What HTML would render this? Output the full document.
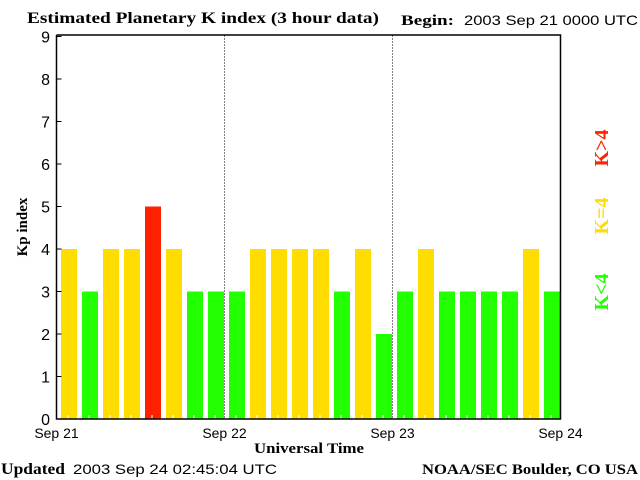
<!DOCTYPE html>
<html><head><meta charset="utf-8"><style>
body{margin:0;background:#fff}
svg{display:block}
text{font-family:"Liberation Sans",sans-serif;font-size:14px;fill:#000}
.serif{font-family:"Liberation Serif",serif;font-weight:bold}
</style></head><body>
<svg id="chart" width="640" height="480">
<text class="serif" x="27" y="23" style="font-size:16px" textLength="352" lengthAdjust="spacingAndGlyphs">Estimated Planetary K index (3 hour data)</text>
<text class="serif" x="401" y="25" style="font-size:15px" textLength="53" lengthAdjust="spacingAndGlyphs">Begin:</text>
<text x="464" y="25" textLength="174" lengthAdjust="spacingAndGlyphs">2003 Sep 21 0000 UTC</text>
<text class="serif" x="1" y="474" style="font-size:16px" textLength="64" lengthAdjust="spacingAndGlyphs">Updated</text>
<text x="73" y="474" textLength="204" lengthAdjust="spacingAndGlyphs">2003 Sep 24 02:45:04 UTC</text>
<text class="serif" x="422" y="474" style="font-size:15px" textLength="216" lengthAdjust="spacingAndGlyphs">NOAA/SEC Boulder, CO USA</text>
<text class="serif" x="254" y="453" style="font-size:15px" textLength="110" lengthAdjust="spacingAndGlyphs">Universal Time</text>
<text class="serif" transform="translate(27,227) rotate(-90)" text-anchor="middle" style="font-size:15px">Kp index</text>
<g id="bars"></g>
<g id="axes"></g>
<text class="serif" transform="translate(608,148) rotate(-90)" text-anchor="middle" style="font-size:20px;fill:#ff2200">K&gt;4</text>
<text class="serif" transform="translate(608,216) rotate(-90)" text-anchor="middle" style="font-size:20px;fill:#ffdd00">K=4</text>
<text class="serif" transform="translate(608,292) rotate(-90)" text-anchor="middle" style="font-size:20px;fill:#22ff00">K&lt;4</text>
</svg>
<script>
const kpValues=[4,3,4,4,5,4,3,3, 3,4,4,4,4,3,4,2, 3,4,3,3,3,3,4,3];
const dayLabels=["Sep 21","Sep 22","Sep 23","Sep 24"];
const yTicks=[0,1,2,3,4,5,6,7,8,9];
const NS="http://www.w3.org/2000/svg";
const X0=56.5,X1=560.5,Y0=419,Y9=36.5;
const yScale=v=>Y0-(Y0-Y9)*v/9;
const slot=(X1-X0)/kpValues.length;
const xScale=i=>X0+slot*i;
function mk(tag,attrs,parent){const e=document.createElementNS(NS,tag);for(const k in attrs)e.setAttribute(k,attrs[k]);parent.appendChild(e);return e;}
const bars=document.getElementById('bars'),axes=document.getElementById('axes');
kpValues.forEach((v,i)=>{
  const col=v>4?'#ff2200':(v==4?'#ffdd00':'#22ff00');
  const r=mk('rect',{x:xScale(i)+4.5,y:yScale(v),width:slot-5,height:Y0-yScale(v),fill:col},bars);
  
  
  mk('line',{x1:xScale(i)+slot/2+1,x2:xScale(i)+slot/2+1,y1:Y0-4,y2:Y0,stroke:'#fff'},bars);
});
const fr=mk('path',{d:`M${X0},${Y9-1.5} V${Y0} H${X1} V${Y9-1.5} H${X0}`,fill:'none',stroke:'#000','stroke-width':1.5},axes);


yTicks.forEach(v=>{
  const y=yScale(v);
  mk('line',{x1:X0,x2:X0+5,y1:y,y2:y,stroke:'#000'},axes);
  const t=mk('text',{x:50,y:y+6,'text-anchor':'end',style:'font-size:16px'},axes);t.textContent=v;
  
  
});
const perDay=8;
dayLabels.forEach((d,k)=>{
  const x=xScale(k*perDay);
  if(k>0&&k<dayLabels.length-1){
    const l=mk('line',{x1:x,x2:x,y1:Y9-1,y2:Y0,stroke:'#000','stroke-dasharray':'1,2'},axes);
    
    
  }
  const t=mk('text',{x:x,y:438,'text-anchor':'middle'},axes);t.textContent=d;
  
  
});
</script>
</body></html>
